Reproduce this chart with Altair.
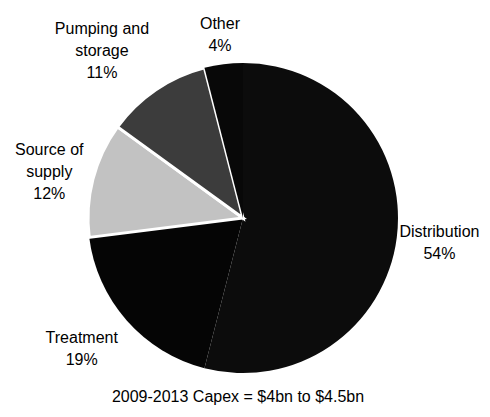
import altair as alt
import pandas as pd

categories = ["Distribution", "Treatment", "Source of supply", "Pumping and storage", "Other"]
labels = ["Distribution\n54%", "Treatment\n19%", "Source of\nsupply\n12%", "Pumping and\nstorage\n11%", "Other\n4%"]
shares = [54, 19, 12, 11, 4]
order_idx = [0, 1, 2, 3, 4]
caption = "2009-2013 Capex = $4bn to $4.5bn"

colors = ["#0c0c0c", "#050505", "#c2c2c2", "#3c3c3c", "#080808"]
# label placement (radius, dx, dy) per category -- styling only
label_style = {
    "Distribution": (198, 0, -11),
    "Treatment": (207, -6, -17),
    "Source of supply": (200, 0, -18),
    "Pumping and storage": (210, -23, -15),
    "Other": (184, 0, -11),
}

df = pd.DataFrame({"category": categories, "label": labels, "share": shares, "idx": order_idx})

pie = alt.Chart(df).mark_arc(outerRadius=155, stroke="white").encode(
    theta=alt.Theta("share:Q", stack=True),
    order=alt.Order("idx:Q"),
    color=alt.Color("category:N", scale=alt.Scale(domain=categories, range=colors), legend=None),
    strokeWidth=alt.condition(
        alt.FieldOneOfPredicate(field="category", oneOf=["Source of supply", "Pumping and storage"]),
        alt.value(3),
        alt.value(0),
    ),
)

text_base = alt.Chart(df).transform_window(
    cum="sum(share)", sort=[alt.SortField("idx")], frame=[None, 0]
).transform_calculate(mid="datum.cum - datum.share / 2")

text_layers = []
for cat in categories:
    r, dx, dy = label_style[cat]
    text_layers.append(
        text_base.transform_filter(alt.datum.category == cat).mark_text(
            radius=r, dx=dx, dy=dy, font="Liberation Sans", fontSize=16, lineBreak="\n",
            lineHeight=22, align="center", baseline="middle", color="black",
        ).encode(
            theta=alt.Theta("mid:Q", scale=alt.Scale(domain=[0, 100])),
            text="label:N",
        )
    )

cap = alt.Chart(pd.DataFrame({"t": [caption]})).mark_text(
    font="Liberation Sans", fontSize=16, align="center", baseline="middle", color="black"
).encode(text="t:N", x=alt.value(215), y=alt.value(369))

chart = alt.layer(pie, *text_layers, cap).properties(
    width=440, height=380,
    autosize=alt.AutoSizeParams(type="none"),
    padding={"left": 15, "top": 20, "right": 19, "bottom": 1},
).configure_view(stroke=None)

chart.save("out.html", embed_options={"renderer": "svg", "actions": False})
